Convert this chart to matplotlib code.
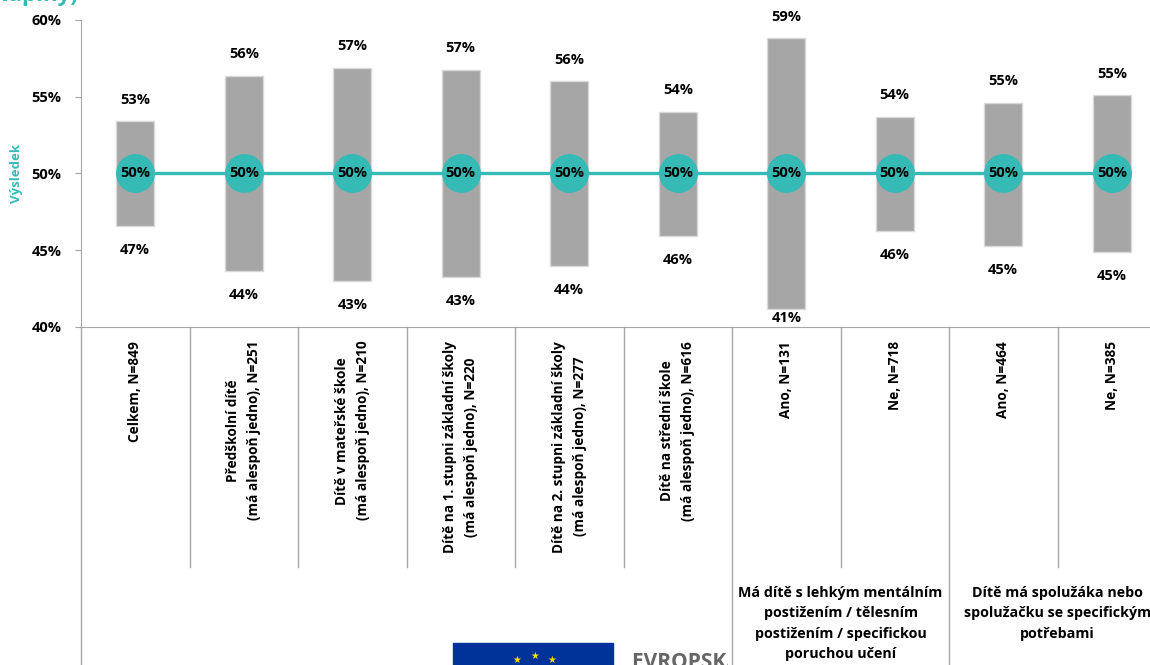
import numpy as np
import matplotlib
matplotlib.use("Agg")
import matplotlib.pyplot as plt
from matplotlib.patches import Rectangle
from matplotlib.transforms import Bbox, TransformedBbox

plt.rcParams['font.family'] = ['Open Sans', 'DejaVu Sans']

### data
categories = ['Celkem, N=849',
              'Předškolní dítě\n(má alespoň jedno), N=251',
              'Dítě v mateřské škole\n(má alespoň jedno), N=210',
              'Dítě na 1. stupni základní školy\n(má alespoň jedno), N=220',
              'Dítě na 2. stupni základní školy\n(má alespoň jedno), N=277',
              'Dítě na střední škole\n(má alespoň jedno), N=616',
              'Ano, N=131', 'Ne, N=718', 'Ano, N=464', 'Ne, N=385']
upper = [53.4, 56.35, 56.9, 56.75, 56.0, 54.0, 58.8, 53.7, 54.6, 55.1]
lower = [46.6, 43.65, 43.0, 43.25, 44.0, 45.9, 41.2, 46.25, 45.3, 44.9]
result = [50, 50, 50, 50, 50, 50, 50, 50, 50, 50]
groups = ['Má dítě s lehkým mentálním\npostižením / tělesním\npostižením / specifickou\nporuchou učení',
          'Dítě má spolužáka nebo\nspolužačku se specifickým\npotřebami']
group_center = [6.5, 8.5]
yticks = [40, 45, 50, 55, 60]

teal = '#35BAB6'
grey_line = '#A6A6A6'

fig = plt.figure(figsize=(11.5, 6.65), dpi=100)
ax = fig.add_axes([81/1150, 338/665, 1085/1150, 307/665])

x = np.arange(len(categories))
h = np.array(upper) - np.array(lower)
ax.bar(x, h, bottom=lower, width=0.35, color='#A6A6A6', edgecolor='#D9D9D9', linewidth=1, zorder=2)
ax.plot(x, result, color=teal, lw=2.4, marker='o', markersize=27, zorder=3)

for i in range(len(x)):
    ax.text(x[i], result[i], '{:.0f}%'.format(result[i]), ha='center', va='center',
            fontsize=10.5, fontweight='bold', zorder=4)
    ax.text(x[i], upper[i] + 1.41, '{:.0f}%'.format(upper[i]), ha='center', va='center',
            fontsize=10.5, fontweight='bold')
    ax.text(x[i], max(lower[i] - 1.56, 40.6), '{:.0f}%'.format(lower[i]), ha='center', va='center',
            fontsize=10.5, fontweight='bold')

ax.set_xlim(-0.5, 9.5)
ax.set_ylim(40, 60)
ax.set_yticks(yticks)
ax.set_yticklabels(['{}%'.format(t) for t in yticks], fontsize=10.5, fontweight='bold')
ax.tick_params(axis='y', length=4, color=grey_line, pad=10)
ax.set_xticks([])
for s in ['top', 'right']:
    ax.spines[s].set_visible(False)
for s in ['left', 'bottom']:
    ax.spines[s].set_color(grey_line)
ax.set_ylabel('Výsledek', color=teal, fontsize=9.5, fontweight='bold')
ax.yaxis.set_label_coords(-0.053, 0.5)

# category area below axis
tr = ax.get_xaxis_transform()
ax.plot([-0.5, -0.5], [0, -1.10], color=grey_line, lw=1, transform=tr, clip_on=False)
for b in np.arange(0.5, 9.5, 1):
    bottom = -1.10 if b in (5.5, 7.5) else -0.782
    ax.plot([b, b], [0, bottom], color=grey_line, lw=1, transform=tr, clip_on=False)
for i, c in enumerate(categories):
    ax.text(x[i], -0.045, c, rotation=90, ha='center', va='top', multialignment='center',
            fontsize=9.8, fontweight='bold', transform=tr, linespacing=1.6)
for g, gc in zip(groups, group_center):
    ax.text(gc, -0.845, g, ha='center', va='top', multialignment='center',
            fontsize=10.3, fontweight='bold', transform=tr, linespacing=1.55)

# cut-off title and logo (logo text hidden behind the chart area from x=732)
fig.text(78/1150, 664/665, '(skupiny)', color=teal, fontsize=16, fontweight='bold',
         ha='right', va='baseline')
fig.patches.append(Rectangle((453/1150, 0), 160/1150, 22/665, transform=fig.transFigure,
                             color='#003399', zorder=1))
for sx, sy in [(535, 4), (517, 0), (552, 0)]:
    fig.text(sx/1150, sy/665, '★', color='#FFDD00', fontsize=7, ha='center', va='bottom',
             family='DejaVu Sans')
eu = fig.text(632/1150, -8/665, 'EVROPSKÁ UNIE', color='#666666', fontsize=15, fontweight='bold',
              ha='left', va='bottom')
eu.set_clip_box(TransformedBbox(Bbox([[0, 0], [728/1150, 1]]), fig.transFigure))
eu.set_clip_on(True)

fig.savefig('out.png', dpi=100)
